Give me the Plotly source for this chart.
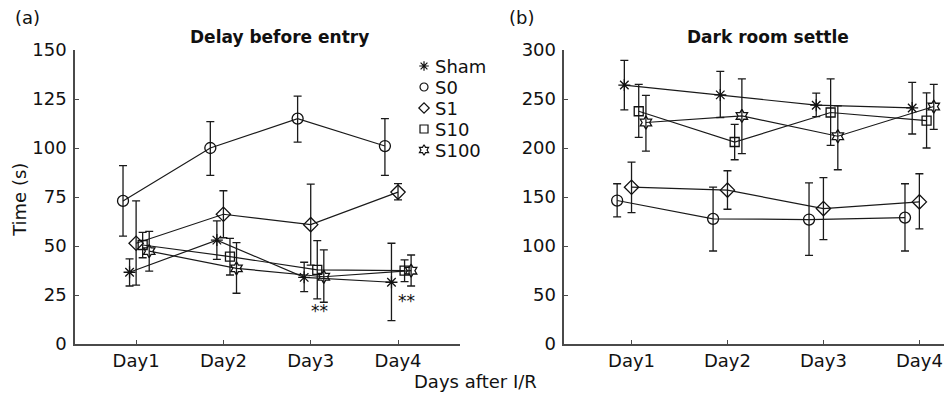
import plotly.graph_objects as go

# ---------------- data ----------------
days = ["Day1", "Day2", "Day3", "Day4"]
day_pos = [1, 2, 3, 4]
groups = ["Sham", "S0", "S1", "S10", "S100"]

# Panel (a): Delay before entry (s)
sham_delay = [36.6, 53.0, 34.0, 31.5]
sham_delay_hi = [43.4, 62.8, 41.7, 51.4]
sham_delay_lo = [29.6, 43.2, 26.7, 11.9]
s0_delay = [73.0, 100.0, 115.0, 101.0]
s0_delay_hi = [91.0, 113.5, 126.5, 115.0]
s0_delay_lo = [55.0, 86.0, 103.0, 86.0]
s1_delay = [51.4, 66.2, 60.9, 77.5]
s1_delay_hi = [73.0, 78.2, 81.6, 81.8]
s1_delay_lo = [30.0, 54.2, 40.2, 73.5]
s10_delay = [50.5, 44.6, 37.8, 37.4]
s10_delay_hi = [57.0, 53.9, 52.7, 42.9]
s10_delay_lo = [44.0, 35.2, 23.0, 31.8]
s100_delay = [47.4, 38.6, 34.3, 37.4]
s100_delay_hi = [57.5, 51.7, 48.0, 45.4]
s100_delay_lo = [37.2, 25.9, 21.3, 29.6]

# Panel (b): Dark room settle (s)
sham_dark = [264.2, 254.2, 243.7, 240.9]
sham_dark_hi = [289.4, 278.2, 256.0, 266.9]
sham_dark_lo = [238.9, 231.1, 232.1, 214.3]
s0_dark = [146.4, 127.7, 127.0, 129.0]
s0_dark_hi = [163.5, 160.0, 164.5, 163.5]
s0_dark_lo = [129.7, 94.9, 90.4, 94.9]
s1_dark = [160.0, 157.0, 138.2, 145.0]
s1_dark_hi = [185.6, 176.8, 169.7, 173.7]
s1_dark_lo = [134.1, 137.5, 106.5, 117.4]
s10_dark = [237.5, 206.1, 236.2, 228.0]
s10_dark_hi = [264.9, 224.2, 270.6, 256.3]
s10_dark_lo = [210.9, 188.0, 202.7, 200.0]
s100_dark = [226.0, 232.7, 212.0, 242.3]
s100_dark_hi = [253.6, 270.6, 243.0, 264.9]
s100_dark_lo = [196.9, 194.2, 177.8, 219.1]

# significance marks on panel (a)
sig_days = [3, 4]
sig_y = [17, 22]
sig_text = ["**", "**"]

# ---------------- styles ----------------
FONT = "DejaVu Sans, Liberation Sans, Arial, sans-serif"
INK = "#111111"
AXC = "#4a4a4a"
symbols = {"Sham": "asterisk-open", "S0": "circle-open", "S1": "diamond-open",
           "S10": "square-open", "S100": "hexagram-open"}
sizes = {"Sham": 10, "S0": 11, "S1": 11, "S10": 9, "S100": 10}
offsets = {"Sham": -0.075, "S0": -0.15, "S1": 0.0, "S10": 0.075, "S100": 0.15}

delay = {"Sham": (sham_delay, sham_delay_hi, sham_delay_lo),
         "S0": (s0_delay, s0_delay_hi, s0_delay_lo),
         "S1": (s1_delay, s1_delay_hi, s1_delay_lo),
         "S10": (s10_delay, s10_delay_hi, s10_delay_lo),
         "S100": (s100_delay, s100_delay_hi, s100_delay_lo)}
dark = {"Sham": (sham_dark, sham_dark_hi, sham_dark_lo),
        "S0": (s0_dark, s0_dark_hi, s0_dark_lo),
        "S1": (s1_dark, s1_dark_hi, s1_dark_lo),
        "S10": (s10_dark, s10_dark_hi, s10_dark_lo),
        "S100": (s100_dark, s100_dark_hi, s100_dark_lo)}

fig = go.Figure()

def add_panel(data, xa, ya):
    for g in groups:
        m, hi, lo = data[g]
        fig.add_trace(go.Scatter(
            x=[d + offsets[g] for d in day_pos], y=m,
            xaxis=xa, yaxis=ya, mode="lines+markers", showlegend=False,
            line=dict(color="#1a1a1a", width=1.2),
            marker=dict(symbol=symbols[g], size=sizes[g], color="#111111",
                        line=dict(width=1.3, color="#111111")),
            error_y=dict(type="data", symmetric=False,
                         array=[h - v for h, v in zip(hi, m)],
                         arrayminus=[v - l for l, v in zip(lo, m)],
                         color="#1a1a1a", thickness=1.3, width=4),
            cliponaxis=False,
        ))

add_panel(delay, "x", "y")
add_panel(dark, "x2", "y2")

# custom legend drawn on an invisible overlay axis: one row per group
legend_rows = list(range(len(groups)))
fig.add_trace(go.Scatter(
    x=[0] * len(groups), y=legend_rows, xaxis="x3", yaxis="y3", mode="markers",
    showlegend=False, hoverinfo="skip",
    marker=dict(symbol=[symbols[g] for g in groups], size=8, color="#111111",
                line=dict(width=1.2, color="#111111")),
))
for r, g in zip(legend_rows, groups):
    fig.add_annotation(x=0, y=r, xref="x3", yref="y3", text=g, showarrow=False,
                       xanchor="left", yanchor="middle", xshift=9,
                       font=dict(family=FONT, size=18, color=INK))

axis_common = dict(showline=True, linecolor=AXC, linewidth=1.5, ticks="inside",
                   ticklen=4, tickwidth=1.3, tickcolor=AXC, showgrid=False,
                   zeroline=False, mirror=False,
                   tickfont=dict(family=FONT, size=18, color=INK))

# page body adds an 8px margin, so the figure is 8px smaller than the window
fig.update_layout(
    width=944, height=387,
    margin=dict(l=67, r=0, t=42, b=51),
    paper_bgcolor="white", plot_bgcolor="white",
    font=dict(family=FONT, size=18, color=INK),
    xaxis=dict(domain=[0, 0.439], range=[0.3, 4.71], tickvals=day_pos, ticktext=days, **axis_common),
    yaxis=dict(range=[0, 150], tickvals=[0, 25, 50, 75, 100, 125, 150],
               ticklabelstandoff=3, **axis_common),
    xaxis2=dict(domain=[0.558, 1.0], range=[0.3, 4.34], tickvals=day_pos, ticktext=days,
                anchor="y2", **axis_common),
    yaxis2=dict(range=[0, 300], tickvals=[0, 50, 100, 150, 200, 250, 300], anchor="x2",
                ticklabelstandoff=3, **axis_common),
    xaxis3=dict(domain=[0, 0.439], range=[-0.9065, 0.0935], visible=False,
                anchor="y3", overlaying="x"),
    yaxis3=dict(domain=[0, 1], range=[13.238, -0.762], visible=False,
                anchor="x3", overlaying="y"),
    showlegend=False,
)

for d, yv, t in zip(sig_days, sig_y, sig_text):
    fig.add_annotation(x=d + 0.1, y=yv, xref="x", yref="y", text=t, showarrow=False,
                       font=dict(family=FONT, size=17, color=INK))

ann = [
    dict(x=-0.0547, y=1.112, text="(a)", font=dict(size=18)),
    dict(x=0.509, y=1.112, text="(b)", font=dict(size=18)),
    dict(x=0.2337, y=1.044, text="<b>Delay before entry</b>", font=dict(size=17)),
    dict(x=0.790, y=1.044, text="<b>Dark room settle</b>", font=dict(size=17)),
    dict(x=0.457, y=-0.126, text="Days after I/R", font=dict(size=18)),
    dict(x=-0.0628, y=0.49, text="Time (s)", font=dict(size=18), textangle=-90),
]
for a in ann:
    f = dict(family=FONT, color=INK)
    f.update(a.pop("font"))
    fig.add_annotation(xref="paper", yref="paper", showarrow=False, font=f,
                       xanchor="center", yanchor="middle", **a)

# small cropped tick stubs from the neighbouring panel at the right edge
for py in [0.806, 0.469]:
    fig.add_shape(type="line", xref="paper", yref="paper", x0=0.9945, x1=1.0, y0=py, y1=py,
                  line=dict(color=AXC, width=1.3))

fig.write_html("out.html")
